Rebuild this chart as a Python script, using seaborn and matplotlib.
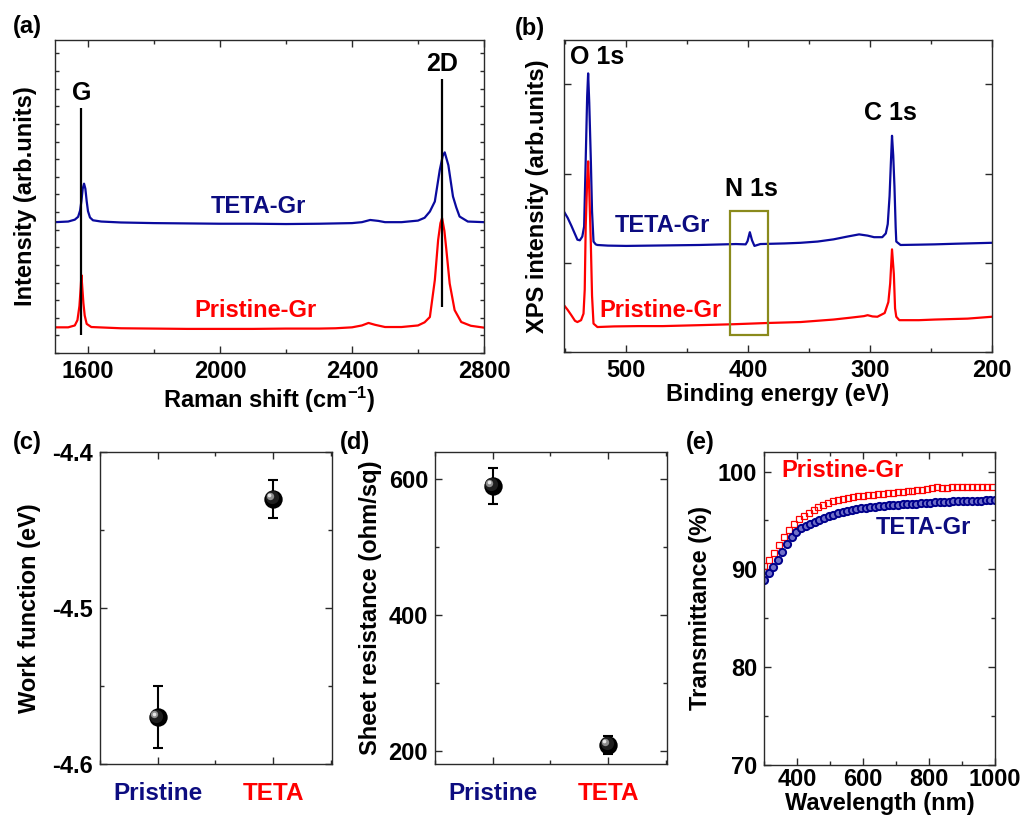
import numpy as np
import matplotlib
matplotlib.use("Agg")
import matplotlib.pyplot as plt
import matplotlib.transforms as mtransforms
from matplotlib.ticker import MultipleLocator, NullFormatter
from matplotlib.patches import Rectangle
import seaborn as sns

# ---------------- data ----------------
# (a) Raman spectra (arb. units)
raman_x_teta = [1500, 1540, 1560, 1570, 1576, 1580, 1584, 1588, 1592, 1596, 1600, 1606, 1615, 1640,
                1700, 1800, 1900, 2000, 2100, 2200, 2300, 2400, 2430, 2455, 2480, 2500, 2550,
                2600, 2620, 2636, 2651, 2666, 2675, 2681, 2692, 2706, 2716, 2726, 2751, 2800]
raman_y_teta = [41.8, 42.0, 42.6, 43.5, 45.5, 48.5, 52.5, 54.1, 52.5, 48.5, 45.3, 43.3, 42.4, 42.0,
                41.7, 41.5, 41.4, 41.3, 41.3, 41.2, 41.3, 41.5, 41.8, 42.5, 42.2, 41.8, 41.8,
                42.3, 43.2, 45.2, 48.4, 58.5, 63.0, 64.1, 60.0, 50.0, 46.5, 43.6, 42.0, 41.8]
raman_x_pristine = [1500, 1540, 1560, 1568, 1574, 1578, 1580, 1582, 1586, 1590, 1596, 1610,
                    1700, 1800, 1900, 2000, 2100, 2200, 2300, 2350, 2400, 2430, 2450, 2470, 2500,
                    2550, 2600, 2620, 2636, 2651, 2661, 2668, 2673, 2680, 2686, 2696, 2711, 2731,
                    2760, 2800]
raman_y_pristine = [8.2, 8.2, 8.8, 10.5, 15.0, 21.0, 24.9, 22.0, 16.0, 12.0, 9.3, 8.3,
                    7.9, 7.8, 7.7, 7.7, 7.7, 7.8, 7.8, 7.9, 8.2, 8.8, 9.6, 9.0, 8.3,
                    8.3, 8.8, 9.8, 11.5, 23.3, 36.1, 41.5, 43.1, 39.0, 32.9, 22.2, 13.7, 9.9,
                    8.7, 8.1]
raman_peak_labels = ["G", "2D"]
raman_peak_pos = [1580, 2674]
raman_line_low = [5.9, 14.7]
raman_line_high = [78.3, 87.4]

# (b) XPS survey (arb. units)
xps_x_teta = [551, 548, 545, 542, 540, 538, 536, 534.5, 533.2, 532, 531.2, 530.3, 529, 528, 526.8,
              525, 523.6, 515, 500, 480, 460, 440, 420, 410, 402, 400.5, 398.6, 396.8, 394.8,
              390, 370, 357, 343, 330, 318.6, 309, 302, 296.7, 290, 287.1, 285.5, 284, 283,
              282, 281, 280, 279, 278.5, 275, 260, 247, 230, 220, 200]
xps_y_teta = [45.0, 43.0, 40.5, 37.8, 36.0, 35.8, 37.0, 40.2, 61.6, 82.0, 89.3, 80.0, 61.6, 45.0, 35.4,
              34.5, 34.3, 34.1, 34.0, 34.1, 34.2, 34.3, 34.5, 34.6, 34.5, 35.5, 38.4, 35.8, 34.0,
              34.6, 34.8, 35.0, 35.4, 36.1, 37.0, 37.7, 37.3, 36.8, 36.8, 38.0, 41.0, 50.0, 60.0,
              69.3, 63.0, 53.1, 40.0, 35.4, 34.3, 34.4, 34.5, 34.7, 34.8, 35.0]
xps_x_pristine = [551, 548, 545, 542, 540, 537, 535, 534, 533.2, 532, 531.2, 530.3, 529, 528, 526.8,
                  523.6, 510, 490, 470, 440, 412, 384, 357, 330, 316, 305, 302, 298, 294, 288,
                  285, 283.5, 282, 280.5, 279.5, 278.5, 276, 260, 247, 220, 200]
xps_y_pristine = [15.0, 13.5, 11.8, 10.0, 9.6, 10.2, 12.3, 20.0, 40.2, 55.0, 61.1, 52.0, 34.8, 18.0, 9.1,
                  8.0, 8.2, 8.3, 8.3, 8.6, 8.9, 9.3, 9.6, 10.4, 11.0, 11.5, 11.8, 11.4, 11.3, 12.5,
                  16.0, 22.0, 32.9, 25.0, 14.0, 11.3, 10.2, 10.2, 10.4, 10.7, 11.3]
xps_peak_labels = ["O 1s", "N 1s", "C 1s"]
n1s_box_ev = [383.8, 415.1]
n1s_box_int = [5.4, 45.2]

# (c) work function, (d) sheet resistance
categories = ["Pristine", "TETA"]
work_function = [-4.570, -4.430]
work_function_err = [0.020, 0.012]
sheet_resistance = [590, 209]
sheet_resistance_err = [26, 13]

# (e) transmittance
wl_pristine = [300, 315, 330, 345, 360, 375, 390, 405, 420, 435, 450, 465, 480, 495, 510, 525, 540,
               555, 570, 585, 600, 615, 630, 645, 660, 675, 690, 705, 720, 735, 750, 765, 780, 795,
               810, 825, 840, 855, 870, 885, 900, 915, 930, 945, 960, 975, 990]
tr_pristine = [90.3, 91.0, 91.7, 92.5, 93.3, 94.0, 94.6, 95.1, 95.5, 95.8, 96.1, 96.4, 96.6, 96.8,
               97.0, 97.1, 97.2, 97.3, 97.4, 97.5, 97.55, 97.6, 97.65, 97.7, 97.75, 97.8, 97.85,
               97.9, 97.95, 98.0, 98.05, 98.1, 98.15, 98.2, 98.3, 98.4, 98.3, 98.35, 98.4, 98.4,
               98.4, 98.4, 98.4, 98.4, 98.4, 98.4, 98.4]
wl_teta = [300, 314, 328, 342, 356, 370, 384, 398, 412, 426, 440, 454, 468, 482, 496, 510, 524, 538,
           552, 566, 580, 594, 608, 622, 636, 650, 664, 678, 692, 706, 720, 734, 748, 762, 776, 790,
           804, 818, 832, 846, 860, 874, 888, 902, 916, 930, 944, 958, 972, 986, 1000]
tr_teta = [88.9, 89.6, 90.2, 91.0, 91.8, 92.6, 93.3, 93.85, 94.2, 94.45, 94.65, 94.85, 95.05, 95.25,
           95.45, 95.6, 95.75, 95.9, 96.0, 96.1, 96.2, 96.25, 96.3, 96.35, 96.4, 96.45, 96.5, 96.55,
           96.6, 96.62, 96.65, 96.68, 96.7, 96.72, 96.75, 96.78, 96.8, 96.85, 96.9, 96.9, 96.92,
           96.95, 96.95, 97.0, 97.0, 97.0, 97.0, 97.02, 97.05, 97.05, 97.05]

# ---------------- style ----------------
sns.set_theme(style="ticks")
plt.rcParams["font.family"] = ["Liberation Sans", "DejaVu Sans"]
plt.rcParams["font.weight"] = "bold"
plt.rcParams["axes.labelweight"] = "bold"
plt.rcParams["axes.unicode_minus"] = False
plt.rcParams["text.color"] = "black"
plt.rcParams["axes.labelcolor"] = "black"
plt.rcParams["xtick.color"] = "black"
plt.rcParams["ytick.color"] = "black"
plt.rcParams["xtick.labelcolor"] = "black"
plt.rcParams["ytick.labelcolor"] = "black"
plt.rcParams["mathtext.fontset"] = "custom"
plt.rcParams["mathtext.rm"] = "Liberation Sans:bold"
plt.rcParams["mathtext.it"] = "Liberation Sans:bold"
plt.rcParams["mathtext.bf"] = "Liberation Sans:bold"
plt.rcParams["mathtext.default"] = "rm"

BLUE = "#0a0a9e"
NAVY = "#0c0c80"
RED = "#ff0000"
FS = 17

W, H = 1026, 817
fig = plt.figure(figsize=(W / 100, H / 100), dpi=100)


def add_ax(left, top, right, bottom):
    return fig.add_axes([left / W, 1 - bottom / H, (right - left) / W, (bottom - top) / H])


def style(ax):
    for s in ax.spines.values():
        s.set_linewidth(1.0)
        s.set_color("#2a2a2a")
    ax.tick_params(which="both", direction="in", top=True, right=True, width=1.0,
                   color="#2a2a2a", labelcolor="black", labelsize=FS, pad=5)
    ax.tick_params(which="major", length=5)
    ax.tick_params(which="minor", length=3)
    for lab in ax.get_xticklabels() + ax.get_yticklabels():
        lab.set_fontweight("bold")


# ---------------- (a) Raman ----------------
axA = add_ax(55, 40, 484, 353)
sns.lineplot(x=raman_x_teta, y=raman_y_teta, ax=axA, color=BLUE, lw=1.6, estimator=None, sort=False)
sns.lineplot(x=raman_x_pristine, y=raman_y_pristine, ax=axA, color=RED, lw=1.6, estimator=None, sort=False)
axA.vlines(raman_peak_pos, raman_line_low, raman_line_high, color="black", lw=1.6, zorder=4)
for lab, xp, yh in zip(raman_peak_labels, raman_peak_pos, raman_line_high):
    axA.text(xp, yh + 1.0, lab, ha="center", va="bottom", fontsize=18, fontweight="bold")
axA.text(2116, 46.8, "TETA-Gr", color=NAVY, ha="center", va="center", fontsize=FS, fontweight="bold")
axA.text(2108, 13.7, "Pristine-Gr", color=RED, ha="center", va="center", fontsize=FS, fontweight="bold")
axA.set_xlim(1500, 2800)
axA.set_ylim(0, 100)
axA.xaxis.set_major_locator(MultipleLocator(400))
axA.xaxis.set_minor_locator(MultipleLocator(200))
axA.yaxis.set_major_locator(MultipleLocator(5.63))
axA.yaxis.set_major_formatter(NullFormatter())
axA.set_xlabel("Raman shift (cm$^{-1}$)", fontsize=FS, labelpad=1)
axA.set_ylabel("Intensity (arb.units)", fontsize=FS, labelpad=8)
style(axA)
axA.tick_params(axis="y", which="major", length=3)

# ---------------- (b) XPS ----------------
axB = add_ax(564, 40, 992, 352)
sns.lineplot(x=xps_x_teta, y=xps_y_teta, ax=axB, color=BLUE, lw=1.6, estimator=None, sort=False)
sns.lineplot(x=xps_x_pristine, y=xps_y_pristine, ax=axB, color=RED, lw=1.6, estimator=None, sort=False)
axB.add_patch(Rectangle((n1s_box_ev[0], n1s_box_int[0]), n1s_box_ev[1] - n1s_box_ev[0],
                        n1s_box_int[1] - n1s_box_int[0], fill=False, edgecolor="#8a8a1c", lw=1.6, zorder=3))
axB.text(524, 94.6, xps_peak_labels[0], ha="center", va="center", fontsize=18, fontweight="bold")
axB.text(397.5, 52.2, xps_peak_labels[1], ha="center", va="center", fontsize=18, fontweight="bold")
axB.text(283, 76.6, xps_peak_labels[2], ha="center", va="center", fontsize=18, fontweight="bold")
axB.text(470, 40.4, "TETA-Gr", color=NAVY, ha="center", va="center", fontsize=FS, fontweight="bold")
axB.text(472, 13.4, "Pristine-Gr", color=RED, ha="center", va="center", fontsize=FS, fontweight="bold")
axB.set_xlim(551, 200)
axB.set_ylim(0, 100)
axB.xaxis.set_major_locator(MultipleLocator(100))
axB.xaxis.set_minor_locator(MultipleLocator(50))
axB.yaxis.set_major_locator(MultipleLocator(28.6))
axB.yaxis.set_major_formatter(NullFormatter())
axB.set_xlabel("Binding energy (eV)", fontsize=FS, labelpad=1)
axB.set_ylabel("XPS intensity (arb.units)", fontsize=FS, labelpad=6)
style(axB)


# ---------------- (c), (d) ball markers ----------------
def ball_plot(ax, values, errors):
    pos = np.arange(len(categories))
    ax.errorbar(pos, values, yerr=errors, fmt="none", ecolor="black", elinewidth=1.5,
                capsize=3.5, capthick=1.5, zorder=2)
    sns.scatterplot(x=pos, y=values, ax=ax, s=175, color="black", linewidth=0, zorder=3)
    sns.scatterplot(x=pos, y=values, ax=ax, s=90, color="#1e1e1e", linewidth=0, zorder=3,
                    transform=ax.transData + mtransforms.ScaledTranslation(-0.015, 0.015, fig.dpi_scale_trans))
    sns.scatterplot(x=pos, y=values, ax=ax, s=28, color="#8c8c8c", linewidth=0, zorder=4,
                    transform=ax.transData + mtransforms.ScaledTranslation(-0.035, 0.03, fig.dpi_scale_trans))
    sns.scatterplot(x=pos, y=values, ax=ax, s=7, color="#e6e6e6", linewidth=0, zorder=5,
                    transform=ax.transData + mtransforms.ScaledTranslation(-0.04, 0.035, fig.dpi_scale_trans))
    ax.set_xlim(-0.5, 1.51)
    ax.set_xticks(pos)
    ax.set_xticklabels(categories)
    ax.xaxis.set_minor_locator(MultipleLocator(0.5))
    style(ax)
    ax.tick_params(axis="x", which="major", pad=13, labelsize=17.5)
    for lab, col in zip(ax.get_xticklabels(), [NAVY, RED]):
        lab.set_color(col)
        lab.set_fontweight("bold")


axC = add_ax(100, 452, 332, 764)
ball_plot(axC, work_function, work_function_err)
axC.set_ylim(-4.6, -4.4)
axC.yaxis.set_major_locator(MultipleLocator(0.1))
axC.yaxis.set_minor_locator(MultipleLocator(0.05))
axC.yaxis.set_major_formatter(matplotlib.ticker.FormatStrFormatter("%.1f"))
axC.set_ylabel("Work function (eV)", fontsize=FS, labelpad=8)
for lab in axC.get_yticklabels():
    lab.set_fontweight("bold")

axD = add_ax(435, 452, 667, 764)
ball_plot(axD, sheet_resistance, sheet_resistance_err)
axD.set_ylim(181, 640)
axD.yaxis.set_major_locator(MultipleLocator(200))
axD.yaxis.set_minor_locator(MultipleLocator(100))
axD.set_ylabel("Sheet resistance (ohm/sq)", fontsize=FS, labelpad=5)
for lab in axD.get_yticklabels():
    lab.set_fontweight("bold")

# ---------------- (e) transmittance ----------------
axE = add_ax(764, 452, 995, 765)
sns.lineplot(x=wl_pristine, y=tr_pristine, ax=axE, estimator=None, sort=False, linestyle="",
             marker="s", markersize=4.2, markerfacecolor="none", markeredgecolor=RED,
             markeredgewidth=0.9, color=RED)
sns.lineplot(x=wl_teta, y=tr_teta, ax=axE, estimator=None, sort=False, linestyle="",
             marker="o", markersize=5.2, markerfacecolor="#7070c8", markeredgecolor="#00008c",
             markeredgewidth=1.4, color=BLUE)
axE.text(538, 100.1, "Pristine-Gr", color=RED, ha="center", va="center", fontsize=FS, fontweight="bold")
axE.text(783, 94.3, "TETA-Gr", color=NAVY, ha="center", va="center", fontsize=FS, fontweight="bold")
axE.set_xlim(300, 1000)
axE.set_ylim(70, 102)
axE.xaxis.set_major_locator(MultipleLocator(200))
axE.xaxis.set_minor_locator(MultipleLocator(100))
axE.yaxis.set_major_locator(MultipleLocator(10))
axE.yaxis.set_minor_locator(MultipleLocator(5))
axE.set_xlabel("Wavelength (nm)", fontsize=FS, labelpad=1)
axE.set_ylabel("Transmittance (%)", fontsize=FS, labelpad=4)
style(axE)
axE.tick_params(axis="x", pad=2)

# ---------------- panel labels ----------------
for lab, x, y in [("(a)", 27, 27), ("(b)", 530, 28), ("(c)", 27, 443), ("(d)", 355, 443), ("(e)", 700, 443)]:
    fig.text(x / W, 1 - y / H, lab, ha="center", va="center", fontsize=17, fontweight="bold")

fig.savefig("out.png", dpi=100)
